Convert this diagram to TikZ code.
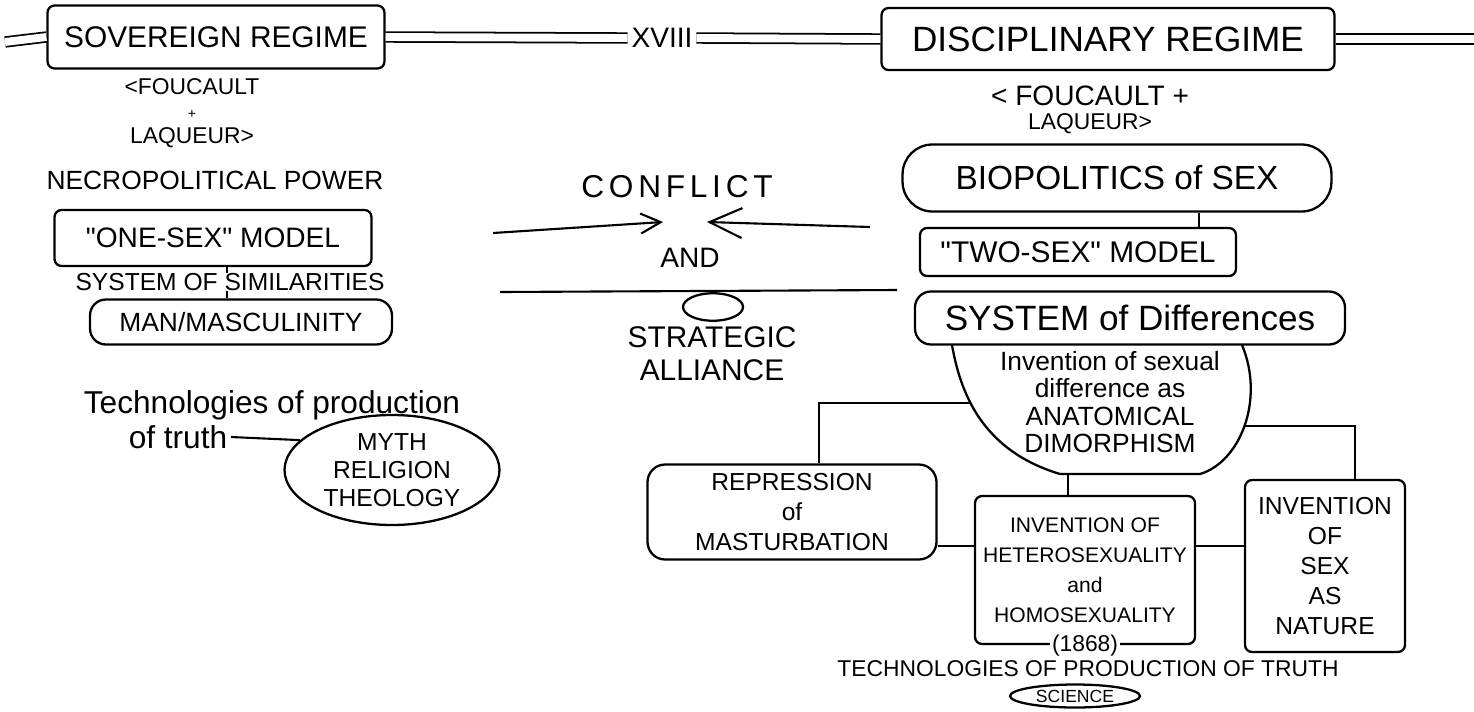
\documentclass[tikz,border=0pt]{standalone}
\usepackage{fontspec}
\setmainfont{Liberation Sans}
\usetikzlibrary{arrows.meta,shapes.geometric}
\newcommand{\handsz}[2]{\fontsize{#1}{#2}\selectfont}
\tikzset{
 every node/.append style={align=center,inner sep=2pt},
 frame/.style={draw,line width=1.3pt,rounded corners=4pt},
 oval/.style={ellipse,draw,line width=1.3pt,inner sep=0pt},
 rail/.style={double,double distance=4.5pt,line width=1pt},
 link/.style={line width=1.2pt},
 clash/.style={-{Straight Barb[length=4mm,width=4mm]},line width=1.2pt},
}

\begin{document}
\begin{tikzpicture}[x=.02cm,y=-.02cm]
\useasboundingbox (0,0) rectangle (1474,711);

% the two regimes
\node[frame,minimum width=6.74cm,minimum height=1.26cm,font=\handsz{17}{20}]
  (sov) at (216,37) {SOVEREIGN REGIME};
\node[font=\handsz{16}{19}] (xviii) at (662,38) {XVIII};
\node[frame,minimum width=9.06cm,minimum height=1.24cm,font=\handsz{20}{24}]
  (dis) at (1108,39) {DISCIPLINARY REGIME};
\coordinate (lend) at (5,42);
\coordinate (rend) at (1474,39);
\draw[rail] (lend) -- (sov.west);
\draw[rail] (sov.east) -- (xviii.west);
\draw[rail] (xviii.east) -- (dis.west);
\draw[rail] (dis.east) -- (rend);

% sovereign side
\node[font=\handsz{13}{14}] (fl) at (192,113)
  {<FOUCAULT\\{\handsz{8}{8}+}\\LAQUEUR>};
\node[font=\handsz{15}{18}] (necro) at (215,180) {NECROPOLITICAL POWER};
\node[frame,minimum width=6.34cm,minimum height=1.12cm,font=\handsz{16}{19}]
  (one) at (213,238) {\textquotedbl ONE-SEX\textquotedbl{} MODEL};
\node[frame,rounded corners=9pt,minimum width=6.04cm,minimum height=.9cm,font=\handsz{15}{18}]
  (man) at (241,322) {MAN/MASCULINITY};
\draw[link] (one.-65) -- (one.-65 |- man.north);
\node[fill=white,inner sep=0pt,font=\handsz{14}{17}] (simil) at (230,282)
  {SYSTEM OF SIMILARITIES};

\node[font=\handsz{18}{21}] (techa) at (272,405) {Technologies of production};
\node[font=\handsz{18}{21}] (techb) at (178,437) {of truth};
\node[oval,minimum width=4.3cm,minimum height=2.2cm,font=\handsz{14}{16}]
  (myth) at (392,470) {MYTH\\RELIGION\\THEOLOGY};
\draw[link] (techb.east) -- (myth.162);

% conflict and alliance
\node[font=\handsz{18}{20}\addfontfeature{LetterSpace=15}] (confl) at (677,187) {CONFLICT};
\coordinate (l1) at (493,233);
\coordinate (l2) at (663,222);
\coordinate (r1) at (870,227);
\coordinate (r2) at (707,222);
\draw[clash] (l1) -- (l2);
\draw[clash,-{Straight Barb[length=6.5mm,width=6mm]}] (r1) -- (r2);
\node[font=\handsz{16}{19}] (conj) at (690,258) {AND};
\coordinate (a1) at (500,292);
\coordinate (a2) at (897,290);
\draw[link] (a1) -- (a2);
\node[oval,minimum width=1.2cm,minimum height=.55cm] (loop) at (713,307) {};
\node[font=\handsz{17}{19}] (ally) at (712,354) {STRATEGIC\\ALLIANCE};

% disciplinary side
\node[font=\handsz{16}{14}] (fr) at (1090,110)
  {< FOUCAULT +\\{\handsz{13}{14}LAQUEUR>}};
\node[frame,rounded corners=17pt,minimum width=8.58cm,minimum height=1.34cm,font=\handsz{19}{22}]
  (bio) at (1117,178) {BIOPOLITICS of SEX};
\node[frame,minimum width=6.32cm,minimum height=.96cm,font=\handsz{17}{20}]
  (two) at (1078,252) {\textquotedbl TWO-SEX\textquotedbl{} MODEL};
\node[frame,rounded corners=9pt,minimum width=8.6cm,minimum height=1.06cm,font=\handsz{20}{23}]
  (diff) at (1130,318) {SYSTEM of Differences};
\draw[link] (bio.-23) -- (bio.-23 |- two.north);

\draw[line width=1.3pt] (952,345) .. controls (960,390) and (980,450) .. (1060,474)
  coordinate[pos=.4] (invl)
  -- (1200,474) coordinate[pos=.06] (invb)
  .. controls (1240,462) and (1265,400) .. (1242,345) coordinate[pos=.5] (invr);
\node[font=\handsz{15}{15.5}] (inv) at (1110,402)
  {Invention of sexual\\difference as\\ANATOMICAL\\DIMORPHISM};

\node[frame,rounded corners=10pt,minimum width=5.78cm,minimum height=1.9cm,font=\handsz{14}{17}]
  (rep) at (792,512) {REPRESSION\\of\\MASTURBATION};
\node[frame,minimum width=4.4cm,minimum height=2.96cm,font=\handsz{12}{17}]
  (het) at (1085,570) {INVENTION OF\\HETEROSEXUALITY\\and\\HOMOSEXUALITY};
\node[fill=white,inner sep=1pt,font=\handsz{13}{15}] (yr) at (het.south) {(1868)};
\node[frame,minimum width=3.2cm,minimum height=3.44cm,font=\handsz{14}{17}]
  (sex) at (1325,566) {INVENTION\\OF\\SEX\\AS\\NATURE};
\draw[link] (rep.-13) -- (rep.-13 -| het.west);
\draw[link] (het.12) -- (het.12 -| sex.west);
\draw[link] (invl) -| (rep.61);
\draw[link] (invr) -| (sex.71);
\draw[link] (invb) -- (invb |- het.north);

\node[font=\handsz{13}{15}] (techr) at (1088,669) {TECHNOLOGIES OF PRODUCTION OF TRUTH};
\node[oval,minimum width=2.6cm,minimum height=.46cm,font=\handsz{10}{11}]
  (sci) at (1075,696) {SCIENCE};
\end{tikzpicture}
\end{document}
